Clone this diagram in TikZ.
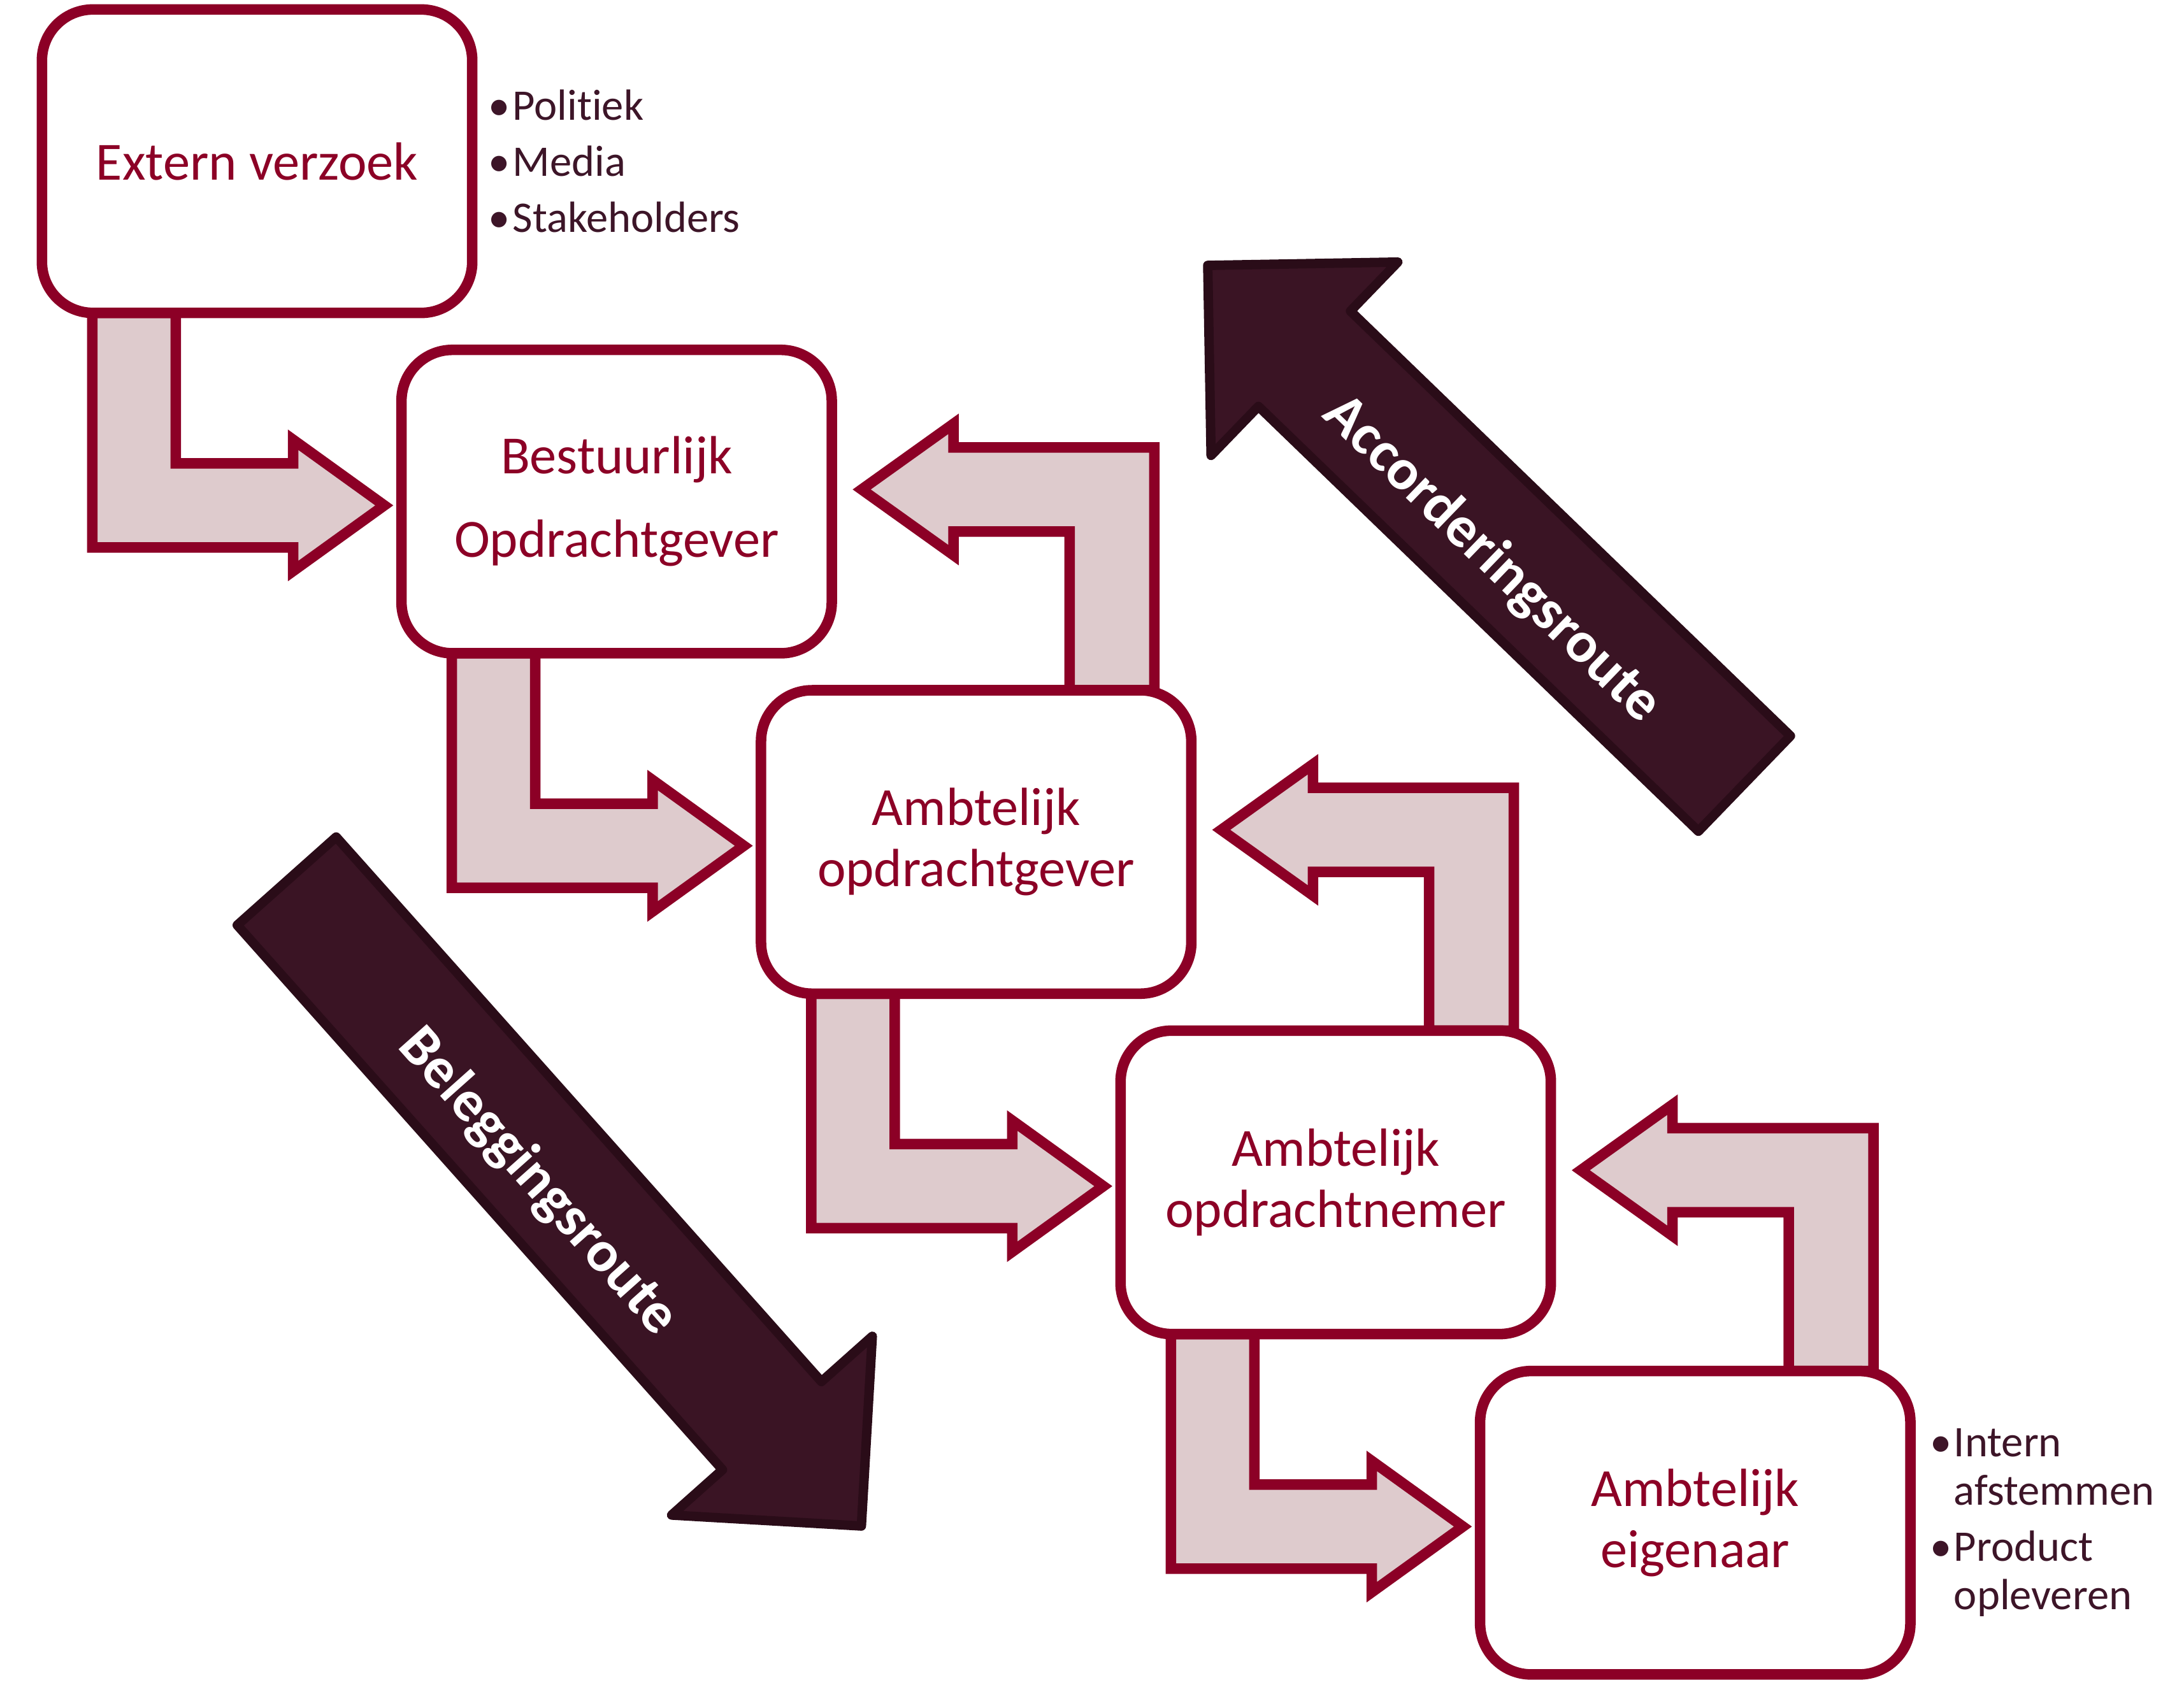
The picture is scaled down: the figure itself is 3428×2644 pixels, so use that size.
\documentclass[tikz,border=0pt]{standalone}
\usepackage{fontspec}
\setmainfont{Carlito}[Ligatures=NoCommon]
\usetikzlibrary{positioning, backgrounds}

\definecolor{kaderrood}{RGB}{140,0,38}
\definecolor{pijlroze}{RGB}{222,203,205}
\definecolor{routevul}{RGB}{58,20,36}
\definecolor{routelijn}{RGB}{42,12,24}
\definecolor{lijsttekst}{RGB}{61,21,40}

\tikzset{
  kader/.style={draw=kaderrood, line width=4.7pt, fill=white, rounded corners=0.8cm,
    minimum width=6.75cm, minimum height=4.76cm, outer sep=0pt, align=center,
    text=kaderrood, font=\fontsize{24}{27.4}\selectfont},
  verbinding/.style={draw=kaderrood, fill=pijlroze, line width=4.7pt},
  route/.style={draw=routelijn, fill=routevul, line width=4.2pt, line join=round},
  routetekst/.style={text=white, inner sep=0pt, font=\bfseries\fontsize{26}{30}\selectfont},
  lijst/.style={text=lijsttekst, align=left, inner sep=0pt}
}

% gebogen pijl: van de onderkant van #1 naar de linkerkant van #2
\newcommand{\pijlneer}[2]{%
  \draw[verbinding] ([shift={(79,0)}]#1.south west) |- ([shift={(-170,72)}]#2.west)
    -- ++(0,37) -- ([shift={(-27,6)}]#2.west) -- ([shift={(-170,-97)}]#2.west)
    -- ++(0,37) -| ([shift={(210,0)}]#1.south west) -- cycle;}
% gebogen pijl terug: van de bovenkant van #1 naar de rechterkant van #2
\newcommand{\pijlop}[2]{%
  \draw[verbinding] ([shift={(-58,0)}]#1.north east) |- ([shift={(191,-85)}]#2.east)
    -- ++(0,-37) -- ([shift={(47,-19)}]#2.east) -- ([shift={(191,84)}]#2.east)
    -- ++(0,-37) -| ([shift={(-191,0)}]#1.north east) -- cycle;}

\begin{document}
\begin{tikzpicture}[x=0.01cm, y=-0.01cm]
\useasboundingbox (0,0) rectangle (3428,2644);

% kaders
\node[kader] (b1) at (403.5,253) {Extern verzoek};
\node[kader, below right=0.58cm and -1.11cm of b1] (b2) {Bestuurlijk\\[9.9pt]Opdrachtgever};
\node[kader, below right=0.58cm and -1.11cm of b2] (b3) {Ambtelijk\\opdrachtgever};
\node[kader, below right=0.58cm and -1.11cm of b3] (b4) {Ambtelijk\\opdrachtnemer};
\node[kader, below right=0.58cm and -1.11cm of b4] (b5) {Ambtelijk\\eigenaar};

% toelichting
\node[lijst, right=0.25cm of b1, font=\fontsize{19.5}{25}\selectfont] (bronnen)
  {•\kern1pt Politiek\\•\kern1pt Media\\•\kern1pt Stakeholders};
\node[lijst, right=0.3cm of b5, font=\fontsize{19.5}{21.6}\selectfont] (taken)
  {•\kern1pt Intern\\\hphantom{•\kern1pt}afstemmen\\[3.4pt]•\kern1pt Product\\\hphantom{•\kern1pt}opleveren};

% verbindingen
\begin{scope}[on background layer]
\foreach \a/\b in {b1/b2, b2/b3, b3/b4, b4/b5}
  \pijlneer{\a}{\b};
\foreach \a/\b in {b3/b2, b4/b3, b5/b4}
  \pijlop{\a}{\b};
\end{scope}

% routes
\begin{scope}[shift={(2738,1230)}, rotate=136]
  \draw[route] (0,-104) -- (960,-104) -- (960,-211) -- (1171,0) -- (960,211) -- (960,104) -- (0,104) -- cycle;
  \node[routetekst, rotate=180, transform shape] (akkoord) at (530,-22) {Accorderingsroute};
\end{scope}
\begin{scope}[shift={(450,1383)}, rotate=-48.3]
  \draw[route] (0,-104) -- (1145,-104) -- (1145,-211) -- (1356,0) -- (1145,211) -- (1145,104) -- (0,104) -- cycle;
  \node[routetekst, transform shape] (beleg) at (615,20) {Beleggingsroute};
\end{scope}
\end{tikzpicture}
\end{document}
